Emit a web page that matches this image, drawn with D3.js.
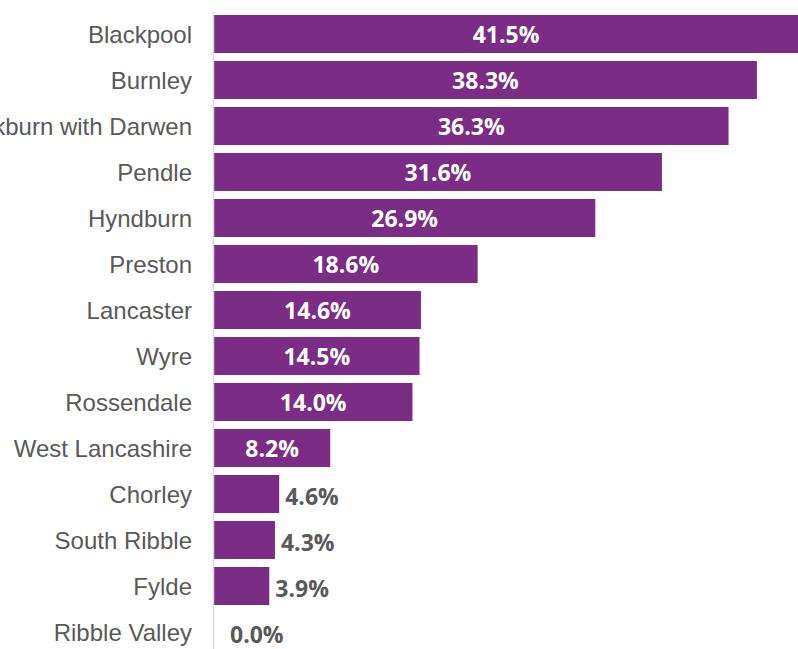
<!DOCTYPE html>
<html>
<head>
<meta charset="utf-8">
<script src="https://cdn.jsdelivr.net/npm/d3@7"></script>
<style>
  body { margin: 0; background: #fff; }
  svg { display: block; }
</style>
</head>
<body>
<div id="chart"></div>
<script>
const districts = [
  "Blackpool", "Burnley", "Blackburn with Darwen", "Pendle", "Hyndburn",
  "Preston", "Lancaster", "Wyre", "Rossendale", "West Lancashire",
  "Chorley", "South Ribble", "Fylde", "Ribble Valley"
];
const shares = [41.5, 38.3, 36.3, 31.6, 26.9, 18.6, 14.6, 14.5, 14.0, 8.2, 4.6, 4.3, 3.9, 0.0];

const width = 798;
const height = 649;
const barColor = "#7b2c84";
const textColor = "#595959";

const data = districts.map((name, i) => ({ name: name, value: shares[i] }));

const svg = d3.select("#chart")
  .append("svg")
  .attr("width", width)
  .attr("height", height);

const x = d3.scaleLinear().domain([0, 40]).range([214, 781]);

const y = d3.scaleBand()
  .domain(districts)
  .range([11, 655])
  .paddingInner(8 / 46)
  .paddingOuter(4 / 46);

// bars
svg.selectAll("rect.bar")
  .data(data)
  .enter()
  .append("rect")
  .attr("class", "bar")
  .attr("x", x(0))
  .attr("y", (d) => y(d.name))
  .attr("width", (d) => x(d.value) - x(0))
  .attr("height", y.bandwidth())
  .attr("fill", barColor);

// axis line
svg.append("line")
  .attr("x1", x(0) - 0.5)
  .attr("x2", x(0) - 0.5)
  .attr("y1", 12)
  .attr("y2", height)
  .attr("stroke", "#d9d9d9")
  .attr("stroke-width", 1.5);

// category labels
svg.selectAll("text.cat")
  .data(data)
  .enter()
  .append("text")
  .attr("class", "cat")
  .attr("x", 192)
  .attr("y", (d) => y(d.name) + y.bandwidth() / 2 + 1)
  .attr("dy", "0.35em")
  .attr("text-anchor", "end")
  .style("font-family", "'Liberation Sans', Arial, sans-serif")
  .style("font-size", "24px")
  .style("fill", textColor)
  .text((d) => d.name);

// value labels: inside for wide bars, outside for short ones
const inside = (d) => d.value >= 8;

svg.selectAll("text.val")
  .data(data)
  .enter()
  .append("text")
  .attr("class", "val")
  .attr("x", (d) => inside(d)
    ? (x(0) + Math.min(x(d.value), width)) / 2
    : Math.max(x(d.value) + 6, x(0) + 16))
  .attr("y", (d) => y(d.name) + y.bandwidth() / 2 + (inside(d) ? 1 : 3))
  .attr("dy", "0.35em")
  .attr("text-anchor", (d) => inside(d) ? "middle" : "start")
  .style("font-family", "'Open Sans', sans-serif")
  .style("font-weight", "bold")
  .style("font-size", "23px")
  .style("fill", (d) => inside(d) ? "#ffffff" : textColor)
  .text((d) => d.value.toFixed(1) + "%");
</script>
</body>
</html>
